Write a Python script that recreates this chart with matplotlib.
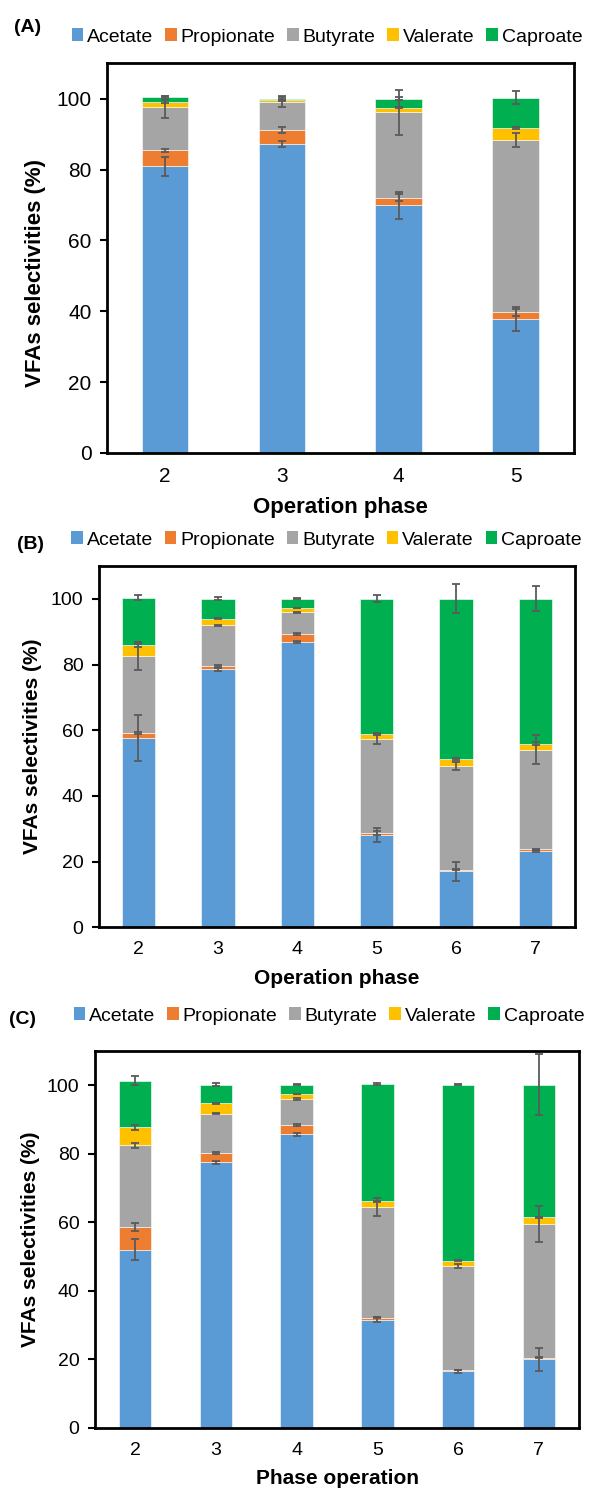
import numpy as np
import matplotlib
matplotlib.use("Agg")
import matplotlib.pyplot as plt
from matplotlib.patches import Patch

plt.rcParams['font.family'] = ['Liberation Sans', 'DejaVu Sans']

acids = ["Acetate", "Propionate", "Butyrate", "Valerate", "Caproate"]
colors = ["#5B9BD5", "#ED7D31", "#A5A5A5", "#FFC000", "#00B050"]

# Panel A
phases_a = ["2", "3", "4", "5"]
a_acetate = [80.9, 87.3, 69.9, 37.8]
a_propionate = [4.6, 3.8, 2.2, 1.9]
a_butyrate = [12.2, 8.1, 24.1, 48.6]
a_valerate = [1.5, 0.4, 1.3, 3.4]
a_caproate = [1.3, 0.4, 2.5, 8.6]
a_err_acetate = [2.7, 0.8, 3.9, 3.3]
a_err_propionate = [0.4, 0.9, 1.0, 1.0]
a_err_butyrate = [3.0, 1.5, 6.3, 2.0]
a_err_valerate = [0.4, 0.2, 0.2, 0.3]
a_err_caproate = [0.4, 0.4, 0.5, 1.8]

# Panel B
phases_b = ["2", "3", "4", "5", "6", "7"]
b_acetate = [57.6, 78.5, 86.9, 28.1, 17.1, 23.2]
b_propionate = [1.5, 1.1, 2.3, 0.6, 0.4, 0.5]
b_butyrate = [23.5, 12.3, 6.7, 28.5, 31.6, 30.4]
b_valerate = [3.2, 2.1, 1.3, 1.8, 2.2, 1.8]
b_caproate = [14.6, 6.1, 2.9, 41.1, 48.8, 44.2]
b_err_acetate = [7.0, 0.5, 0.3, 2.0, 2.9, 0.3]
b_err_propionate = [0.3, 0.4, 0.3, 0.5, 0.2, 0.2]
b_err_butyrate = [4.2, 0.2, 0.2, 1.3, 1.3, 4.4]
b_err_valerate = [0.5, 0.1, 0.1, 0.2, 0.3, 0.4]
b_err_caproate = [0.8, 0.5, 0.1, 1.0, 4.4, 3.8]

# Panel C
phases_c = ["2", "3", "4", "5", "6", "7"]
c_acetate = [52.0, 77.5, 85.6, 31.6, 16.5, 20.0]
c_propionate = [6.6, 2.6, 2.7, 0.6, 0.4, 0.5]
c_butyrate = [23.8, 11.5, 7.6, 32.2, 30.3, 39.0]
c_valerate = [5.3, 3.1, 1.5, 1.7, 1.6, 1.9]
c_caproate = [13.6, 5.4, 2.7, 34.2, 51.3, 38.7]
c_err_acetate = [3.0, 0.4, 0.4, 0.7, 0.5, 3.4]
c_err_propionate = [1.2, 0.3, 0.2, 0.1, 0.1, 0.2]
c_err_butyrate = [0.7, 0.1, 0.4, 2.6, 0.6, 5.2]
c_err_valerate = [0.7, 0.1, 0.1, 0.2, 0.2, 0.2]
c_err_caproate = [1.4, 0.5, 0.1, 0.3, 0.1, 8.8]

W, H = 590, 1489
fig = plt.figure(figsize=(W / 100, H / 100), dpi=100)


def px_axes(left, top, right, bottom):
    return fig.add_axes([left / W, 1 - bottom / H, (right - left) / W, (bottom - top) / H])


def draw_panel(rect, phases, series, errors, width, tick_fs, ylab_fs, xlabel,
               ylab_x, ylab_y, xlab_y, leg_y, leg_x0, leg_x1, leg_fs, tag, tag_xy):
    ax = px_axes(*rect)
    x = np.arange(len(phases))
    bottom = np.zeros(len(phases))
    for vals, col in zip(series, colors):
        v = np.array(vals)
        ax.bar(x, v, width, bottom=bottom, color=col, edgecolor='white', linewidth=0.4, zorder=2)
        bottom = bottom + v
    bottom = np.zeros(len(phases))
    for vals, err in zip(series, errors):
        bottom = bottom + np.array(vals)
        eb = ax.errorbar(x, bottom, yerr=err, fmt='none', ecolor='#5A5A5A', elinewidth=1.3,
                         capsize=3, capthick=1.3, zorder=3)
        for art in eb.lines[1] + eb.lines[2]:
            art.set_clip_on(False)
    ax.set_xlim(-0.5, len(phases) - 0.5)
    ax.set_ylim(0, 110)
    ax.set_yticks([0, 20, 40, 60, 80, 100])
    ax.set_xticks(x)
    ax.set_xticklabels(phases)
    ax.tick_params(axis='y', length=5, width=1.5, direction='out', labelsize=tick_fs, pad=6)
    ax.tick_params(axis='x', length=0, labelsize=tick_fs, pad=10)
    for s in ax.spines.values():
        s.set_linewidth(2)
        s.set_color('black')
    fig.text(ylab_x / W, 1 - ylab_y / H, "VFAs selectivities (%)", rotation=90,
             ha='center', va='center', fontsize=ylab_fs, fontweight='bold')
    cx = (rect[0] + rect[2]) / 2
    fig.text(cx / W, 1 - xlab_y / H, xlabel, ha='center', va='center',
             fontsize=ylab_fs, fontweight='bold')
    fig.text(tag_xy[0] / W, 1 - tag_xy[1] / H, tag, ha='center', va='center',
             fontsize=leg_fs, fontweight='bold')
    handles = [Patch(facecolor=c, edgecolor='none') for c in colors]
    fig.legend(handles, acids, loc='center', ncol=5, frameon=False,
               bbox_to_anchor=((leg_x0 + leg_x1) / 2 / W, 1 - leg_y / H),
               fontsize=leg_fs, handlelength=0.6, handleheight=0.6,
               handletextpad=0.2, columnspacing=0.6, borderpad=0, borderaxespad=0)
    return ax


draw_panel((106.7, 63.3, 574, 453), phases_a,
           [a_acetate, a_propionate, a_butyrate, a_valerate, a_caproate],
           [a_err_acetate, a_err_propionate, a_err_butyrate, a_err_valerate, a_err_caproate],
           0.40, 15, 16, "Operation phase", 36, 273, 507, 37, 68, 586, 14, "(A)", (28, 27))

draw_panel((98.7, 566, 575.3, 927.3), phases_b,
           [b_acetate, b_propionate, b_butyrate, b_valerate, b_caproate],
           [b_err_acetate, b_err_propionate, b_err_butyrate, b_err_valerate, b_err_caproate],
           0.42, 14, 15, "Operation phase", 33, 746, 979, 540, 75, 578, 14, "(B)", (30, 545))

draw_panel((94.7, 1050.7, 579.3, 1428), phases_c,
           [c_acetate, c_propionate, c_butyrate, c_valerate, c_caproate],
           [c_err_acetate, c_err_propionate, c_err_butyrate, c_err_valerate, c_err_caproate],
           0.40, 14, 15, "Phase operation", 31, 1239, 1479, 1016, 70, 588, 14, "(C)", (22, 1020))

fig.savefig("out.png", dpi=100)
